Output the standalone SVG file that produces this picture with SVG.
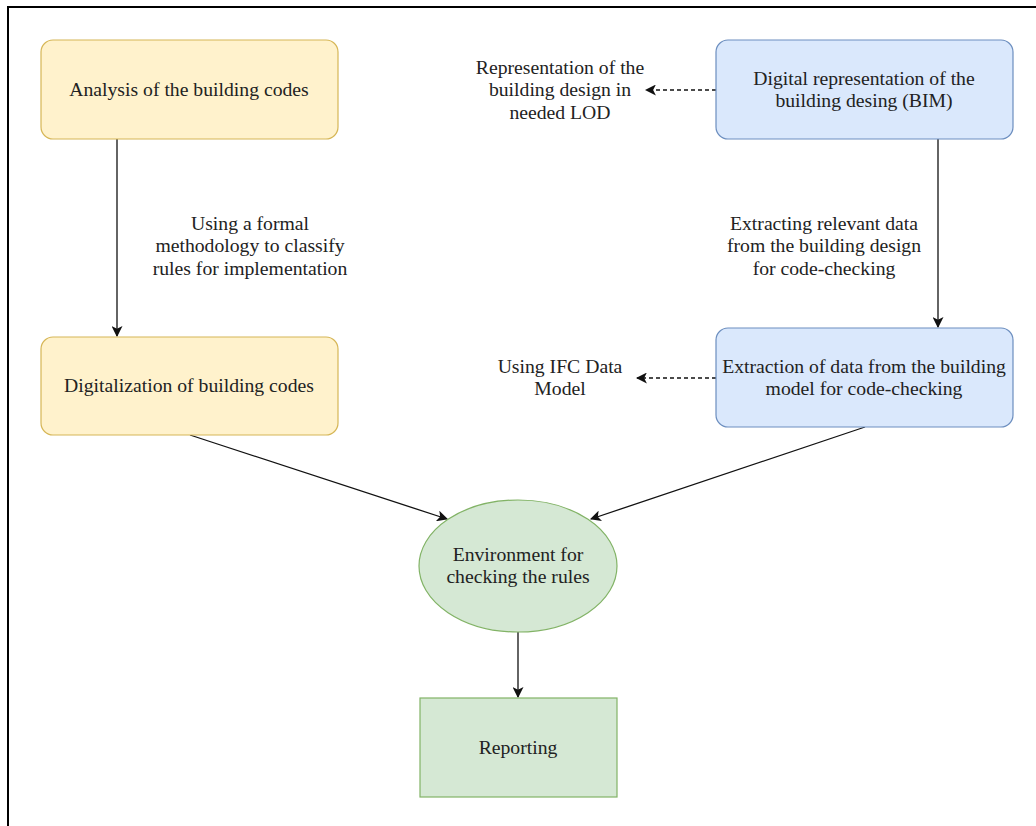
<svg xmlns="http://www.w3.org/2000/svg" width="1036" height="826" viewBox="0 0 1036 826">
  <style>
    text { font-family: "Liberation Serif", "Times New Roman", serif; font-size: 19.7px; fill: #222; text-anchor: middle; }
    .yellow { fill: #fff2cc; stroke: #d6b656; stroke-width: 1.2; }
    .blue { fill: #dae8fc; stroke: #6c8ebf; stroke-width: 1.2; }
    .green { fill: #d5e8d4; stroke: #82b366; stroke-width: 1.2; }
    .edge { fill: none; stroke: #111; stroke-width: 1.3; }
    .dash { stroke-dasharray: 4 3; }
    .frame { fill: none; stroke: #000; stroke-width: 2; }
  </style>
  <defs>
    <marker id="arrow" viewBox="0 0 10 10" refX="9" refY="5" markerWidth="11" markerHeight="11" markerUnits="userSpaceOnUse" orient="auto">
      <path d="M0,0 L10,5 L0,10 L2.5,5 Z" fill="#111"/>
    </marker>
  </defs>

  <rect width="1036" height="826" fill="#fff"/>
  <!-- outer frame (top and left edges) -->
  <path class="frame" d="M8,826 L8,7 L1036,7"/>

  <g id="connectors">
    <line class="edge" x1="117" y1="139" x2="117" y2="336" marker-end="url(#arrow)"/>
    <line class="edge" x1="938" y1="139" x2="938" y2="327" marker-end="url(#arrow)"/>
    <line class="edge dash" x1="716" y1="90" x2="646" y2="90" marker-end="url(#arrow)"/>
    <line class="edge dash" x1="716" y1="378" x2="637" y2="378" marker-end="url(#arrow)"/>
    <line class="edge" x1="190" y1="435" x2="447" y2="519" marker-end="url(#arrow)"/>
    <line class="edge" x1="865" y1="427" x2="591" y2="519" marker-end="url(#arrow)"/>
    <line class="edge" x1="518" y1="632" x2="518" y2="697" marker-end="url(#arrow)"/>
  </g>

  <g id="edge-labels">
    <text x="250" y="230">Using a formal</text>
    <text x="250" y="252">methodology to classify</text>
    <text x="250" y="275">rules for implementation</text>
    <text x="824" y="230">Extracting relevant data</text>
    <text x="824" y="252">from the building design</text>
    <text x="824" y="275">for code-checking</text>
  </g>

  <g id="analysis">
    <rect class="yellow" x="41" y="40" width="297" height="99" rx="12"/>
    <text x="189" y="96">Analysis of the building codes</text>
  </g>

  <g id="digitalization">
    <rect class="yellow" x="41" y="337" width="297" height="98" rx="12"/>
    <text x="189" y="392">Digitalization of building codes</text>
  </g>

  <g id="bim">
    <rect class="blue" x="716" y="40" width="297" height="99" rx="12"/>
    <text x="864" y="85">Digital representation of the</text>
    <text x="864" y="107">building desing (BIM)</text>
  </g>

  <g id="lod-note">
    <text x="560" y="74">Representation of the</text>
    <text x="560" y="96">building design in</text>
    <text x="560" y="119">needed LOD</text>
  </g>

  <g id="extraction">
    <rect class="blue" x="716" y="328" width="297" height="99" rx="12"/>
    <text x="864" y="373">Extraction of data from the building</text>
    <text x="864" y="395">model for code-checking</text>
  </g>

  <g id="ifc-note">
    <text x="560" y="373">Using IFC Data</text>
    <text x="560" y="395">Model</text>
  </g>

  <g id="environment">
    <ellipse class="green" cx="518" cy="566" rx="99" ry="66"/>
    <text x="518" y="561">Environment for</text>
    <text x="518" y="583">checking the rules</text>
  </g>

  <g id="reporting">
    <rect class="green" x="420" y="698" width="197" height="99"/>
    <text x="518" y="754">Reporting</text>
  </g>
</svg>
